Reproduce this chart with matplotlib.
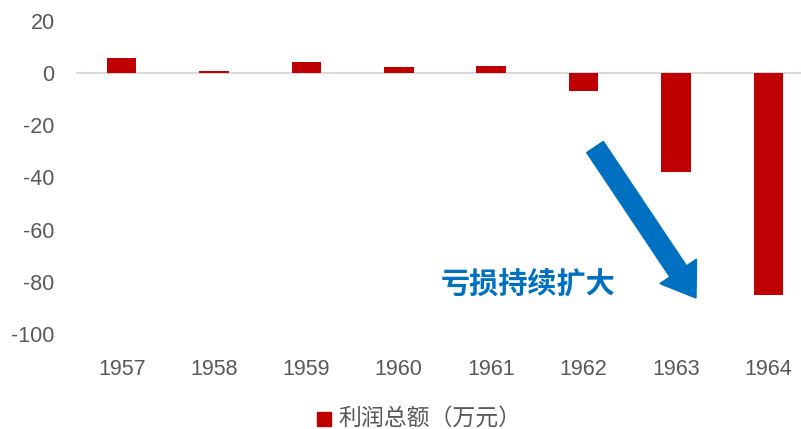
import matplotlib
matplotlib.use("Agg")
import matplotlib.pyplot as plt
from matplotlib.patches import FancyArrow, Rectangle
from matplotlib.transforms import IdentityTransform

years = ["1957", "1958", "1959", "1960", "1961", "1962", "1963", "1964"]
profit = [6.0, 1.0, 4.1, 2.5, 2.8, -7.0, -38.0, -85.0]
series_name = "利润总额（万元）"
note = "亏损持续扩大"
y_ticks = [20, 0, -20, -40, -60, -80, -100]

RED = "#C00000"
BLUE = "#0070C0"
GREY = "#595959"
W, H = 801, 429

plt.rcParams["font.family"] = ["Liberation Sans", "Noto Sans CJK SC", "DejaVu Sans"]

fig = plt.figure(figsize=(W / 100, H / 100), dpi=100)
# plot area runs a little past the right edge of the canvas, as in the source
ax = fig.add_axes([75.5 / W, 1 - 334 / H, 739 / W, (334 - 21) / H])

x = range(len(years))
ax.bar(x, profit, width=0.32, color=RED, zorder=3)
ax.axhline(0, color="#D9D9D9", linewidth=1.5, zorder=2)

ax.set_xlim(-0.5, len(years) - 0.5)
ax.set_ylim(-100, 20)
ax.set_yticks(y_ticks)
ax.set_yticklabels([str(v) for v in y_ticks])
ax.set_xticks(list(x))
ax.set_xticklabels(years)
ax.tick_params(axis="both", length=0, labelsize=15.5, labelcolor=GREY)
ax.tick_params(axis="x", pad=18)
ax.tick_params(axis="y", pad=15)
for s in ax.spines.values():
    s.set_visible(False)

# annotation arrow and text
tail = (595, H - 147)
tip = (696, H - 298)
fig.add_artist(FancyArrow(tail[0], tail[1], tip[0] - tail[0], tip[1] - tail[1],
                          width=20, head_width=44, head_length=32,
                          length_includes_head=True, color=BLUE,
                          transform=IdentityTransform()))
fig.text(441 / W, 1 - 284 / H, note, fontsize=21, fontweight="bold", color=BLUE,
         family=["Noto Sans CJK SC"], ha="left", va="center")

# legend
fig.add_artist(Rectangle((317 / W, 1 - 426 / H), 14 / W, 14 / H,
                         transform=fig.transFigure, color=RED))
fig.text(338 / W, 1 - 418 / H, series_name, fontsize=16.5, color=GREY,
         family=["Noto Sans CJK SC"], ha="left", va="center")

fig.savefig("out.png", dpi=100)
